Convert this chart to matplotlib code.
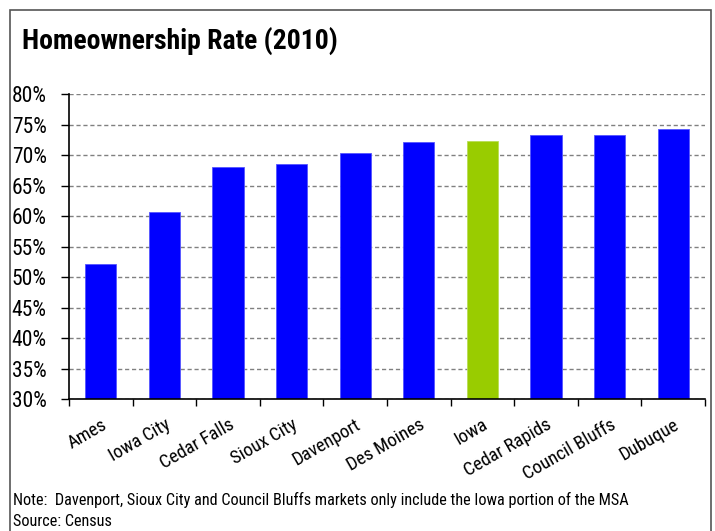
import matplotlib.pyplot as plt
from matplotlib.patches import Rectangle
from matplotlib.ticker import FixedLocator, PercentFormatter

cities = ["Ames", "Iowa City", "Cedar Falls", "Sioux City", "Davenport",
          "Des Moines", "Iowa", "Cedar Rapids", "Council Bluffs", "Dubuque"]
rates = [52.1, 60.7, 68.1, 68.5, 70.3, 72.1, 72.3, 73.4, 73.4, 74.3]
highlight = "Iowa"

plt.rcParams["font.family"] = ["Roboto Condensed", "DejaVu Sans"]

fig = plt.figure(figsize=(7.15, 5.31), dpi=100)
ax = fig.add_axes([69 / 715, 1 - 399 / 531, 636 / 715, (399 - 94.3) / 531])

colors = ["#99cc00" if c == highlight else "#0000ff" for c in cities]
edges = ["#b8dd55" if c == highlight else "#5555ff" for c in cities]
x = range(len(cities))
ax.bar(x, rates, width=0.49, color=colors, edgecolor=edges, linewidth=0.6, zorder=3)

ax.set_ylim(30, 80)
ax.set_xlim(-0.5, len(cities) - 0.5)
ax.set_yticks(range(30, 81, 5))
ax.yaxis.set_major_formatter(PercentFormatter(decimals=0))
ax.grid(axis="y", linestyle=(0, (3, 2)), color="#808080", linewidth=1, zorder=0)

ax.set_xticks(list(x))
ax.set_xticklabels(cities, rotation=30, ha="right", rotation_mode="anchor", fontsize=13.5)
ax.xaxis.set_minor_locator(FixedLocator([i - 0.5 for i in range(len(cities) + 1)]))
ax.tick_params(axis="x", which="major", length=0, pad=12)
ax.tick_params(axis="x", which="minor", length=5, width=1, direction="out")
ax.tick_params(axis="y", length=6, width=1, labelsize=15.5, pad=10, colors="black")

for side in ["top", "right"]:
    ax.spines[side].set_visible(False)
for side in ["left", "bottom"]:
    ax.spines[side].set_linewidth(1.2)
    ax.spines[side].set_zorder(4)

fig.text(22 / 715, 1 - 41 / 531, "Homeownership Rate (2010)", fontsize=20,
         fontweight="bold", va="center", ha="left")
fig.text(13 / 715, 1 - 500 / 531,
         "Note:  Davenport, Sioux City and Council Bluffs markets only include the Iowa portion of the MSA",
         fontsize=11.7, va="center", ha="left")
fig.text(13 / 715, 1 - 521 / 531, "Source: Census", fontsize=11.7, va="center", ha="left")

# frame around the whole chart, open at the bottom edge
fig.patches.append(Rectangle((10 / 715, -0.05), 701 / 715, 1.05 - 10 / 531,
                             transform=fig.transFigure, fill=False,
                             edgecolor="#555555", linewidth=1.2))

fig.savefig("out.png", dpi=100)
